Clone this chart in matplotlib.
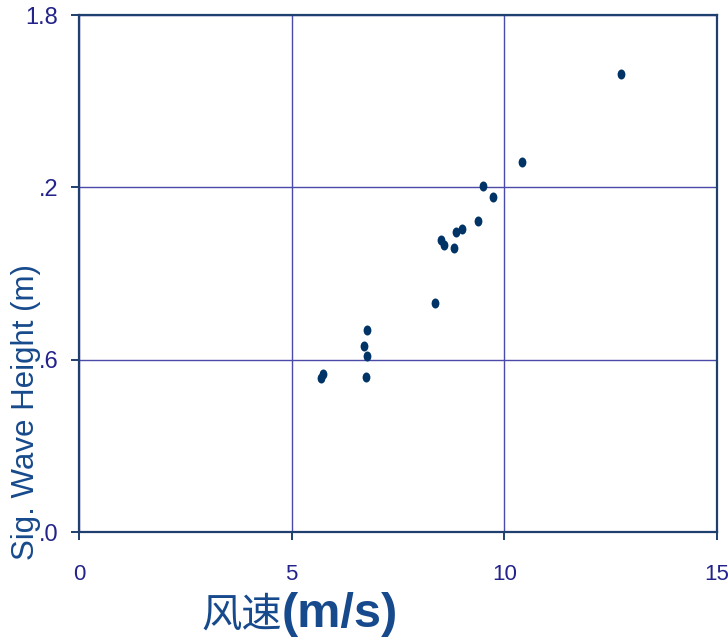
import matplotlib.pyplot as plt
from matplotlib.path import Path
from matplotlib.transforms import Affine2D

# wind speed (m/s) and significant wave height (m)
wind_speed = [12.74, 10.42, 9.50, 9.73, 9.38, 9.01, 8.86, 8.51, 8.58, 8.82,
              8.37, 6.77, 6.70, 6.77, 6.75, 5.74, 5.69]
wave_height = [1.595, 1.288, 1.205, 1.166, 1.083, 1.055, 1.045, 1.017, 0.999, 0.989,
               0.797, 0.703, 0.648, 0.613, 0.540, 0.550, 0.536]

x_ticks = [0, 5, 10, 15]
x_tick_labels = ["0", "5", "10", "15"]
y_ticks = [0.0, 0.6, 1.2, 1.8]
y_tick_labels = [".0", ".6", ".2", "1.8"]

spine_col = "#1f3f6f"
grid_col = "#4a4aa8"
tick_col = "#23238a"
label_col = "#174a8c"
dot_col = "#003366"

fig = plt.figure(figsize=(7.28, 6.38), dpi=100)
ax = fig.add_axes([0.1085, 0.1661, 0.8764, 0.8103])

# slightly tall oval marker like the original
oval = Path.unit_circle().transformed(Affine2D().scale(0.78, 1.0))
ax.scatter(wind_speed, wave_height, marker=oval, s=52, color=dot_col,
           linewidths=0, zorder=3)

ax.set_xlim(0, 15)
ax.set_ylim(0, 1.8)
ax.set_xticks(x_ticks)
ax.set_xticklabels(x_tick_labels)
ax.set_yticks(y_ticks)
ax.set_yticklabels(y_tick_labels)

ax.grid(True, color=grid_col, linewidth=1.0)
ax.set_axisbelow(True)
for s in ax.spines.values():
    s.set_color(spine_col)
    s.set_linewidth(1.6)

tick_font = ["Liberation Sans Narrow", "Liberation Sans"]
ax.tick_params(axis="x", colors=spine_col, length=6, width=1.4, pad=17,
               labelcolor=tick_col, labelsize=16)
ax.tick_params(axis="y", colors=spine_col, length=6, width=1.4, pad=9,
               labelcolor=tick_col, labelsize=17)
for lab in ax.get_xticklabels() + ax.get_yticklabels():
    lab.set_family(tick_font)

# y label sits low and tight against the tick labels, as in the original
fig.text(26 / 728, 1 - 412 / 638, "Sig. Wave Height (m)", rotation=90,
         ha="center", va="center", fontsize=22.5, color=label_col,
         family=["Liberation Sans", "DejaVu Sans"], zorder=-1)

fig.text(201 / 728, 11 / 638, "风速", ha="left", va="baseline", fontsize=29,
         color=label_col, family=["Noto Sans CJK SC", "DejaVu Sans"])
fig.text(282 / 728, 11 / 638, "(m/s)", ha="left", va="baseline", fontsize=35,
         fontweight="bold", color=label_col,
         family=["Liberation Sans", "DejaVu Sans"])

fig.savefig("out.png", dpi=100)
